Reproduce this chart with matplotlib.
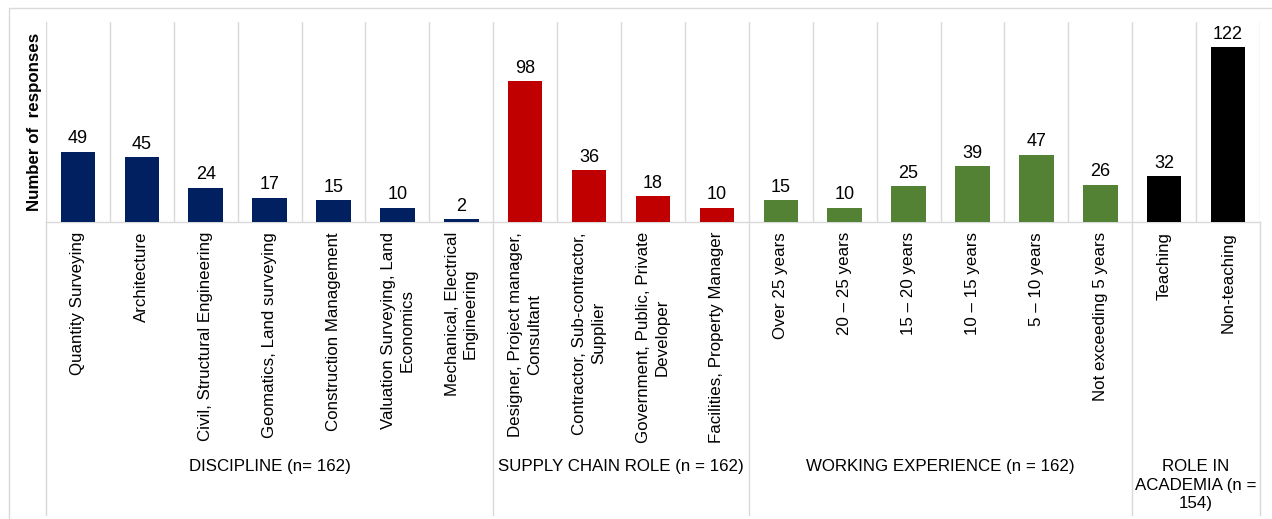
import matplotlib.pyplot as plt
import matplotlib.transforms as mtransforms
from matplotlib.patches import Rectangle

plt.rcParams['font.family'] = ['Liberation Sans', 'DejaVu Sans']

categories = ['Quantity Surveying', 'Architecture', 'Civil, Structural Engineering',
              'Geomatics, Land surveying', 'Construction Management',
              'Valuation Surveying, Land\nEconomics', 'Mechanical, Electrical\nEngineering',
              'Designer, Project manager,\nConsultant', 'Contractor, Sub-contractor,\nSupplier',
              'Government, Public, Private\nDeveloper', 'Facilities, Property Manager',
              'Over 25 years', '20 \u2013 25 years', '15 \u2013 20 years', '10 \u2013 15 years',
              '5 \u2013 10 years', 'Not exceeding 5 years',
              'Teaching', 'Non-teaching']
values = [49, 45, 24, 17, 15, 10, 2,
          98, 36, 18, 10,
          15, 10, 25, 39, 47, 26,
          32, 122]
groups = ['DISCIPLINE (n= 162)', 'SUPPLY CHAIN ROLE (n = 162)',
          'WORKING EXPERIENCE (n = 162)', 'ROLE IN\nACADEMIA (n =\n154)']
group_sizes = [7, 4, 6, 2]
group_colors = ['#002060', '#C00000', '#548235', '#000000']

colors = []
for c, n in zip(group_colors, group_sizes):
    colors += [c] * n

W, H = 1272, 519
fig = plt.figure(figsize=(W / 100, H / 100), dpi=100)
ax = fig.add_axes([46 / W, 1 - 222 / H, (1260 - 46) / W, 200 / H])

x = list(range(len(values)))
ax.bar(x, values, width=0.54, color=colors, zorder=3)
for xi, v in zip(x, values):
    ax.text(xi, v + 3, str(v), ha='center', va='bottom', fontsize=13)

ax.set_xlim(-0.5, len(values) - 0.5)
ax.set_ylim(0, 139.5)
ax.set_yticks([])
ax.set_xticks([])
for s in ['top', 'left', 'right']:
    ax.spines[s].set_visible(False)
ax.spines['bottom'].set_color('#d9d9d9')
ax.spines['bottom'].set_linewidth(1)

grid = '#d9d9d9'
for i in range(len(values) + 1):
    ax.axvline(i - 0.5, color=grid, lw=1, zorder=1)

ax.set_ylabel('Number of  responses', fontsize=12.2, fontweight='bold', labelpad=3)

# category labels under the axis
lbl = mtransforms.offset_copy(ax.transData, fig=fig, y=-10, units='dots')
for xi, c in zip(x, categories):
    ax.text(xi, 0, c, transform=lbl, rotation=90, ha='center', va='top',
            multialignment='center', fontsize=12.2, linespacing=1.3)

# group separators and labels
bt = mtransforms.blended_transform_factory(ax.transData, fig.transFigure)
start = 0
bounds = [0]
for n in group_sizes:
    start += n
    bounds.append(start)
for b in bounds:
    ax.plot([b - 0.5, b - 0.5], [1 - 222 / H, 1 - 515 / H], transform=bt,
            color=grid, lw=1, clip_on=False)
for g, a, b in zip(groups, bounds[:-1], bounds[1:]):
    ax.text((a + b - 1) / 2, 1 - 459 / H, g, transform=bt, ha='center', va='top',
            fontsize=12.2, multialignment='center', linespacing=1.3)

fig.patches.append(Rectangle((9 / W, -0.1), 1.2, 1.1 - 8 / H, transform=fig.transFigure,
                             fill=False, edgecolor='#d9d9d9', lw=1))

fig.savefig('out.png', dpi=100)
